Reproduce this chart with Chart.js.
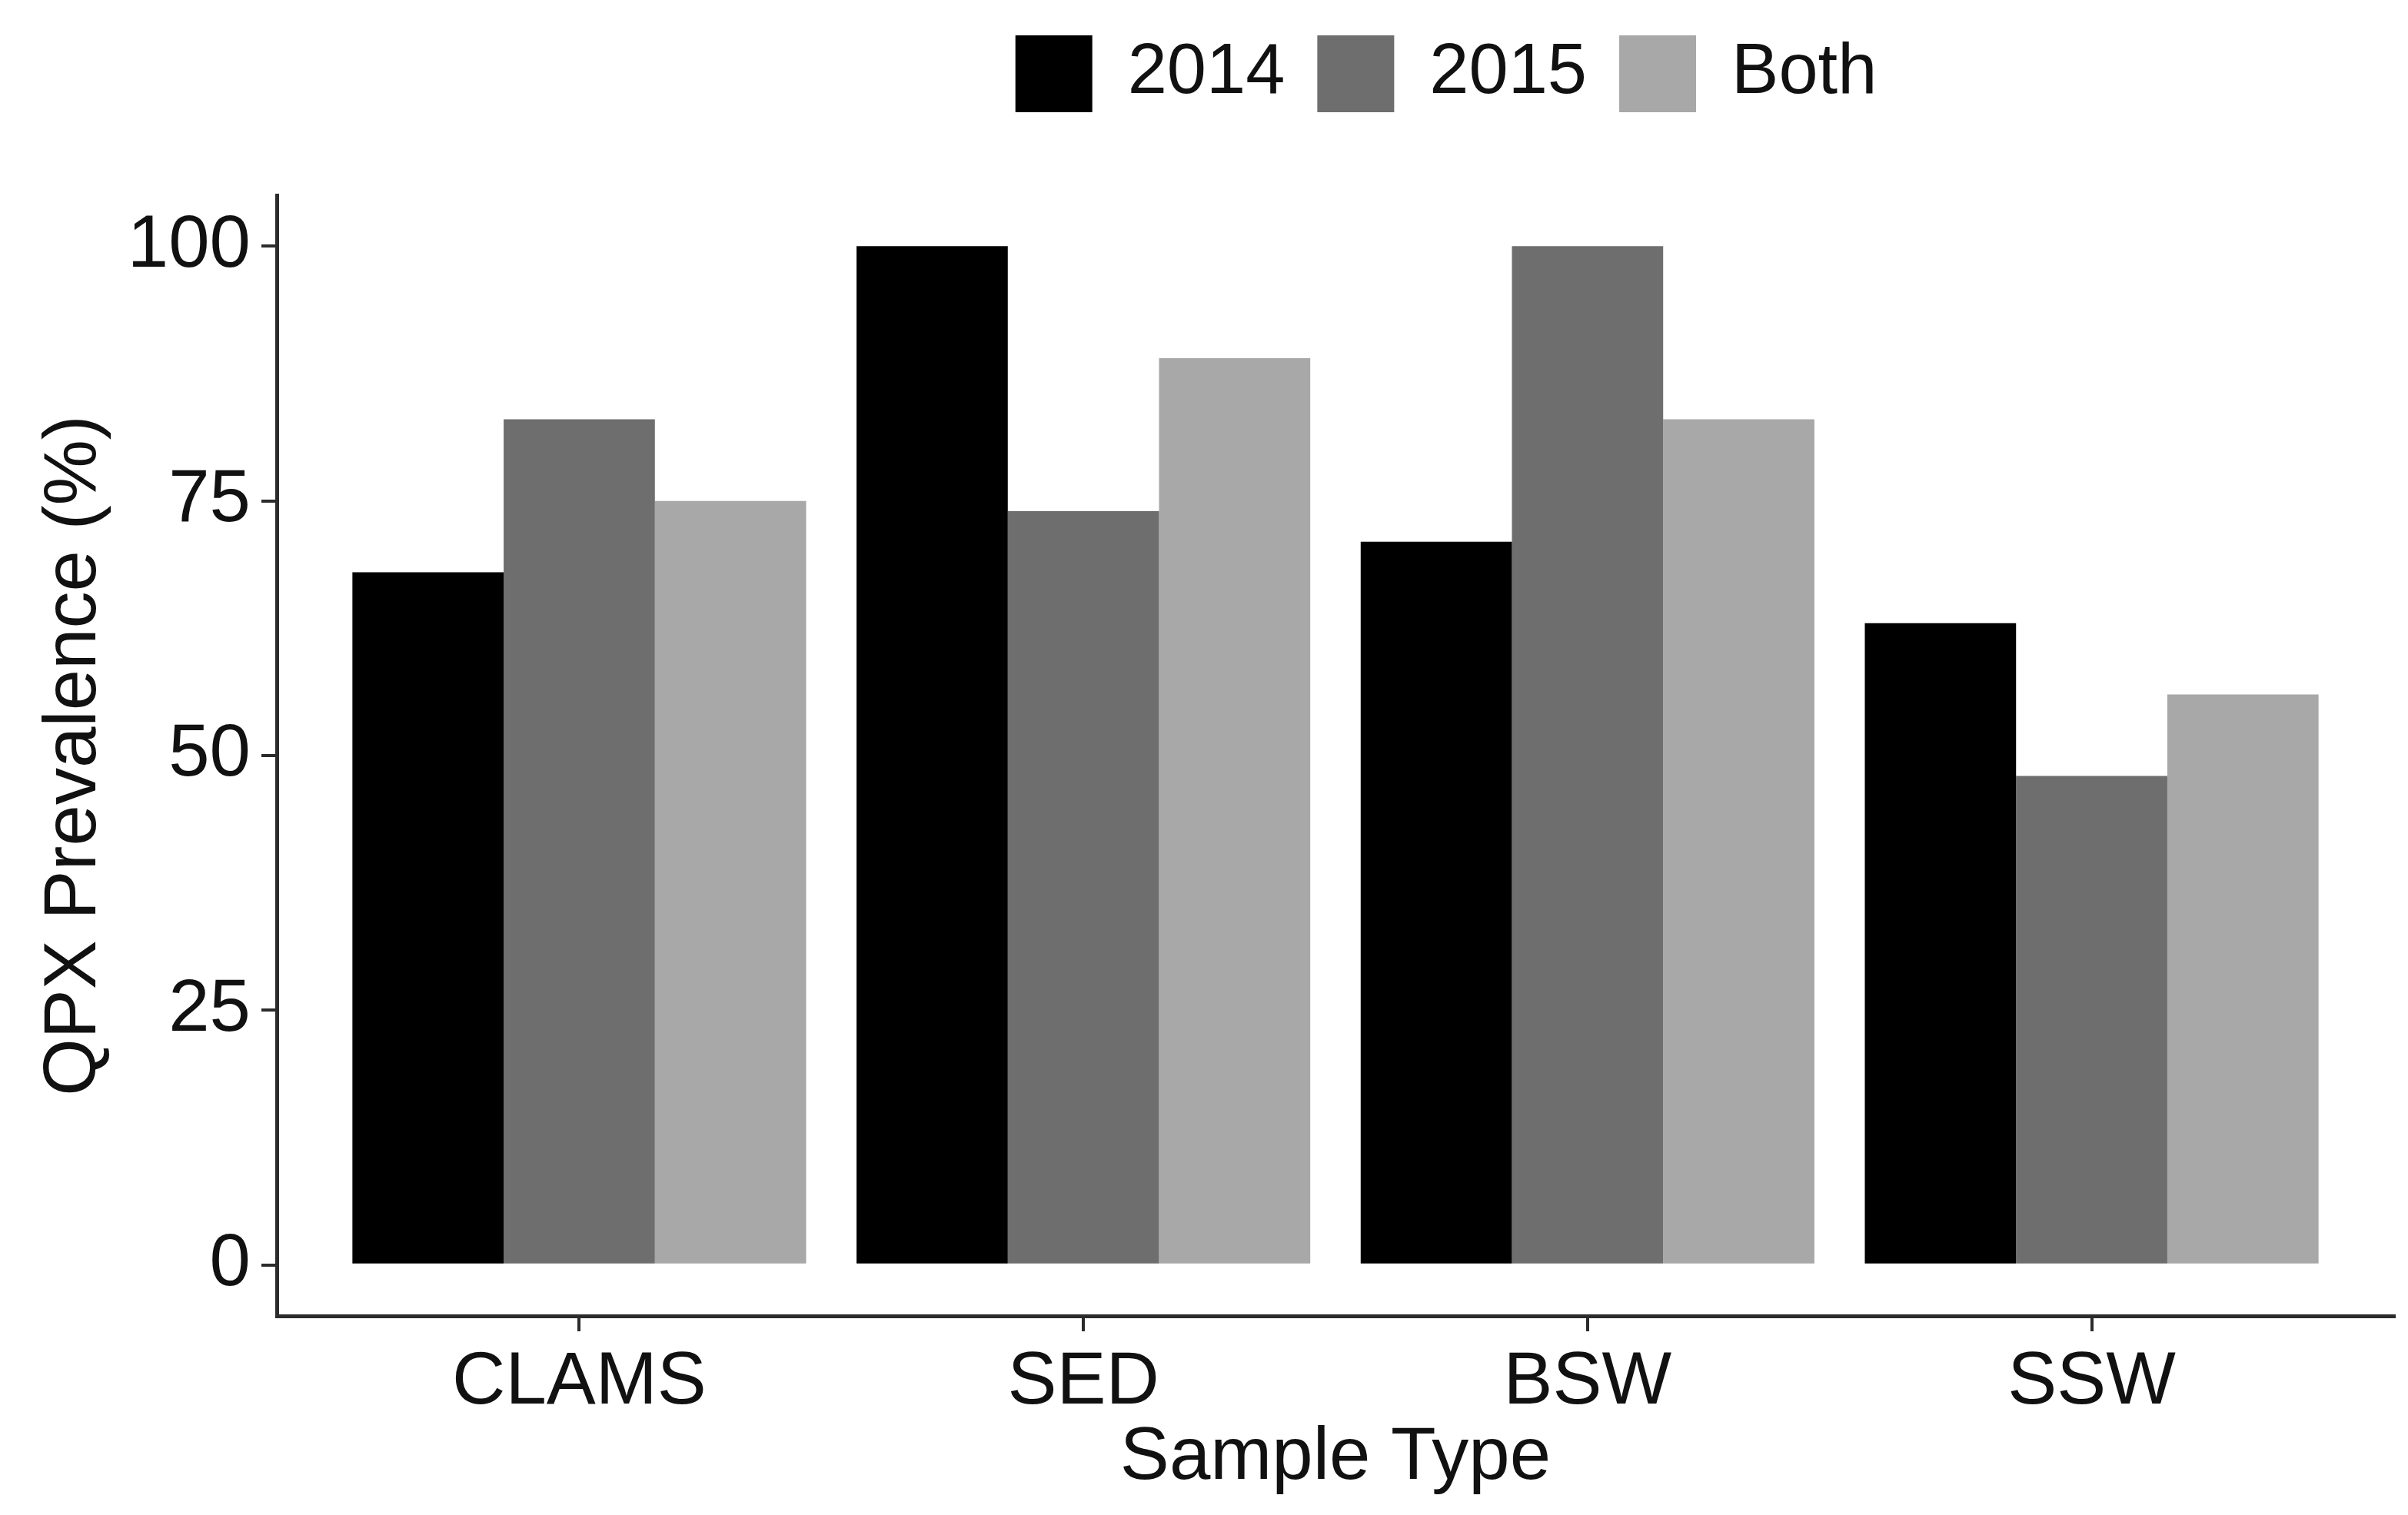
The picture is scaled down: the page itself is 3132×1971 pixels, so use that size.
<!DOCTYPE html>
<html><head><meta charset="utf-8">
<title>QPX Prevalence by Sample Type</title>
<script src="https://cdn.jsdelivr.net/npm/chart.js@4.4.1/dist/chart.umd.min.js"></script>
<style>
html,body{margin:0;padding:0;background:#fff}
#box{width:3132px;height:1971px;position:relative}
</style></head><body>
<div id="box"><canvas id="chart"></canvas></div>
<script>
// QPX prevalence (%) per sample type
var CATEGORIES = ['CLAMS', 'SED', 'BSW', 'SSW'];
var SERIES_NAMES = ['2014', '2015', 'Both'];
var VALUES_2014 = [68, 100, 71, 63];
var VALUES_2015 = [83, 74, 100, 48];
var VALUES_BOTH = [75, 89, 83, 56];
var Y_TICKS = [0, 25, 50, 75, 100];

var FILLS = ['#000000', '#6e6e6e', '#a8a8a8'];
var FONT = '"Liberation Sans", Arial, sans-serif';
var INK = '#111111';
var AXIS = '#2b2b2b';

function points(vals) {
  return vals.map(function(v, i) { return {x: i, y: v}; });
}

var datasets = [VALUES_2014, VALUES_2015, VALUES_BOTH].map(function(vals, k) {
  return {
    label: SERIES_NAMES[k],
    data: points(vals),
    backgroundColor: FILLS[k],
    borderWidth: 0,
    categoryPercentage: 0.9,
    barPercentage: 1.0
  };
});

// legend: fixed height, nudged right like the ggplot legend
var legendTweak = {
  id: 'legendTweak',
  beforeUpdate: function(chart) {
    var lg = chart.legend;
    if (lg && !lg._patched) {
      var fit = lg.fit;
      lg.fit = function() { fit.call(this); this.height = 254; };
      lg._patched = true;
    }
  },
  afterLayout: function(chart) {
    var lg = chart.legend;
    if (lg) { lg.left += 324; lg.right += 324; lg.top += 4; lg.bottom += 4; }
  }
};

new Chart(document.getElementById('chart').getContext('2d'), {
  type: 'bar',
  data: {datasets: datasets},
  plugins: [legendTweak],
  options: {
    responsive: true,
    maintainAspectRatio: false,
    devicePixelRatio: 1,
    animation: false,
    layout: {padding: {left: 0, right: 18, top: 0, bottom: 0}},
    plugins: {
      tooltip: {enabled: false},
      legend: {
        position: 'top',
        labels: {
          boxWidth: 100, boxHeight: 100, padding: 42,
          color: INK,
          font: {family: FONT, size: 92, lineHeight: 1.3}
        }
      }
    },
    scales: {
      x: {
        type: 'linear',
        offset: false,
        min: -0.6, max: 3.6,
        afterBuildTicks: function(s) { s.ticks = CATEGORIES.map(function(c, i) { return {value: i}; }); },
        afterFit: function(s) { s.height = 259; },
        ticks: {
          color: INK, padding: 10,
          font: {family: FONT, size: 96},
          callback: function(v) { return CATEGORIES[v]; }
        },
        grid: {display: true, offset: false, drawOnChartArea: false, drawTicks: true, tickLength: 20, color: AXIS, lineWidth: 4},
        border: {display: true, color: AXIS, width: 5},
        title: {display: true, text: 'Sample Type', color: INK, font: {family: FONT, size: 96}, padding: {top: 0, bottom: 16}}
      },
      y: {
        min: -5, max: 105,
        afterBuildTicks: function(s) { s.ticks = Y_TICKS.map(function(v) { return {value: v}; }); },
        afterFit: function(s) { s.width = 360; },
        ticks: {color: INK, padding: 14, font: {family: FONT, size: 96}},
        grid: {display: true, drawOnChartArea: false, drawTicks: true, tickLength: 20, color: AXIS, lineWidth: 4},
        border: {display: true, color: AXIS, width: 5},
        title: {display: true, text: 'QPX Prevalence (%)', color: INK, font: {family: FONT, size: 96}, padding: {top: 40, bottom: 0}}
      }
    }
  }
});
</script>
</body></html>
